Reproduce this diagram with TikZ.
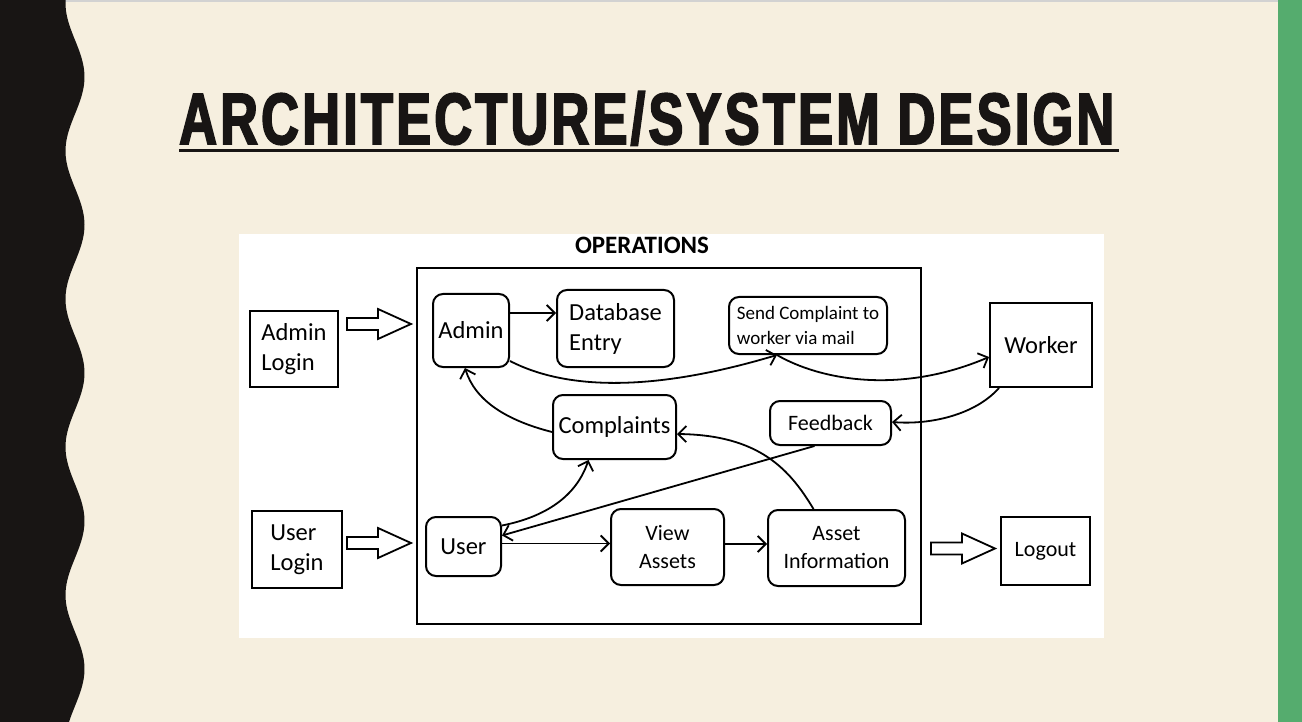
\documentclass[tikz,border=0pt]{standalone}
\usepackage{fontspec}
\setmainfont{Carlito}
\newfontfamily\titlefont[FakeStretch=0.72,FakeBold=2.5,LetterSpace=4.5]{Liberation Sans Bold}
\usetikzlibrary{arrows.meta}
\definecolor{paper}{HTML}{F6EFDF}
\definecolor{ink}{HTML}{181514}
\definecolor{stripe}{HTML}{55AC6E}
\tikzset{fatarrow/.pic={\draw[line width=1.8pt,fill=white] (0,-6) -- (31,-6) -- (31,-15) -- (64,0) -- (31,15) -- (31,6) -- (0,6) -- cycle;}}

\begin{document}
\begin{tikzpicture}[x=1pt,y=-1pt,>={Straight Barb[length=8pt,width=16pt]},
    conn/.style={->,line width=1.8pt},
    sharpbox/.style={draw,line width=2pt,align=left,inner sep=0pt,font=\fontsize{24.5}{30}\selectfont},
    roundbox/.style={sharpbox,rounded corners=10pt},
    midtext/.style={align=center,font=\fontsize{22}{28}\selectfont}]
    \useasboundingbox (0,0) rectangle (1302,722);
    \fill[paper] (0,0) rectangle (1302,722);
    \fill[gray!35] (0,0) rectangle (1302,2);
    \fill[ink] (0,0) -- plot[variable=\t,domain=0:722,samples=200] ({75+9.5*cos(2.4324*(\t-77))},\t) -- (0,722) -- cycle;
    \fill[stripe] (1278,0) rectangle (1302,722);

    \node[anchor=base west,inner sep=0pt,text=ink,font=\titlefont\fontsize{72.6}{80}\selectfont] (title) at (179,144) {ARCHITECTURE/SYSTEM DESIGN};
    \draw[ink,line width=3pt] (179,151) -- (1119,151);

    \fill[white] (239,234) rectangle (1104,638);
    \node[font=\bfseries\fontsize{25}{30}\selectfont] (opslabel) at (642,245) {OPERATIONS};
    \node[draw,line width=2.2pt,minimum width=504pt,minimum height=356pt,inner sep=0pt] (ops) at (669,446) {};

    \node[sharpbox,minimum width=88pt,minimum height=76pt] (adminlogin) at (294,349) {Admin\\Login};
    \node[sharpbox,minimum width=90pt,minimum height=77pt] (userlogin) at (297,549.5) {User\\Login};
    \node[sharpbox,minimum width=102pt,minimum height=84pt] (worker) at (1041,345) {Worker};
    \node[sharpbox,midtext,minimum width=89pt,minimum height=68pt] (logout) at (1045.5,551) {Logout};

    \node[roundbox,minimum width=76pt,minimum height=73pt] (admin) at (471,330.5) {Admin};
    \node[roundbox,minimum width=117pt,minimum height=77pt] (dbentry) at (615.5,328.5) {Database\\Entry};
    \node[roundbox,minimum width=158pt,minimum height=57pt,font=\fontsize{19}{25}\selectfont] (sendmail) at (808,325.5) {Send Complaint to\\worker via mail};
    \node[roundbox,midtext,minimum width=121pt,minimum height=44pt] (feedback) at (830.5,423) {Feedback};
    \node[roundbox,minimum width=123pt,minimum height=64pt] (complaints) at (614.5,427) {Complaints};
    \node[roundbox,minimum width=75pt,minimum height=59pt] (user) at (463.5,546.5) {User};
    \node[roundbox,midtext,minimum width=113pt,minimum height=76pt] (viewassets) at (667.5,547) {View\\Assets};
    \node[roundbox,midtext,minimum width=137pt,minimum height=76pt] (assetinfo) at (836.5,548) {Asset\\Information};

    \pic at (347,324) {fatarrow};
    \pic at (347,543) {fatarrow};
    \pic at (931,548.5) {fatarrow};

    \draw[conn] ([yshift=17.5pt]admin.east) -- ([yshift=17.5pt]admin.east -| dbentry.west);
    \draw[conn] ([yshift=7pt]admin.south east) .. controls (570,392) and (660,390) .. ([xshift=-31pt]sendmail.south);
    \draw[conn] ([xshift=-31pt]sendmail.south) .. controls (820,380) and (900,395) .. ([yshift=-12pt]worker.west);
    \draw[conn] ([xshift=10pt]worker.south west) .. controls (975,415) and (930,425) .. ([yshift=1pt]feedback.east);
    \draw[conn] ([yshift=-5pt]complaints.west) .. controls (505,420) and (475,400) .. ([xshift=-6pt]admin.south);
    \draw[conn] ([yshift=21pt]user.east) .. controls (540,518) and (575,500) .. ([xshift=-26pt]complaints.south);
    \draw[conn] ([xshift=-16pt]feedback.south) -- ([yshift=11pt]user.east);
    \draw[conn] ([yshift=3pt]user.east) -- ([yshift=3pt]user.east -| viewassets.west);
    \draw[conn] ([yshift=3pt]viewassets.east) -- ([yshift=3pt]viewassets.east -| assetinfo.west);
    \draw[conn] ([xshift=-23pt]assetinfo.north) .. controls (790,470) and (760,435) .. ([yshift=-7pt]complaints.east);
\end{tikzpicture}
\end{document}
